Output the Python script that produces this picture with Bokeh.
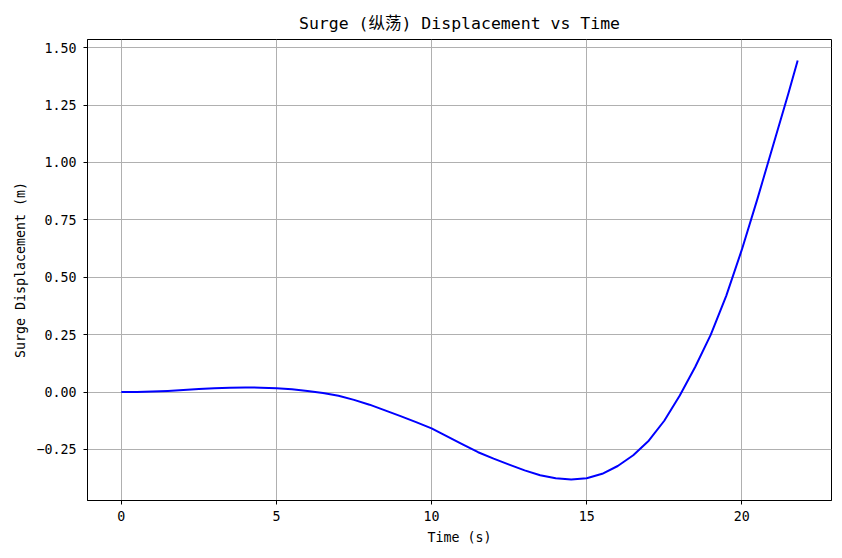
from bokeh.plotting import figure
from bokeh.models import Range1d, FixedTicker
from bokeh.embed import file_html
from bokeh.resources import INLINE

# surge displacement
time_s = [0, 0.5, 1, 1.5, 2, 2.5, 3, 3.5, 4, 4.5, 5, 5.5, 6, 6.5, 7, 7.5, 8, 8.5, 9, 9.5,
          10, 10.5, 11, 11.5, 12, 12.5, 13, 13.5, 14, 14.5, 15, 15.5, 16, 16.5, 17, 17.5,
          18, 18.5, 19, 19.5, 20, 20.5, 21, 21.5, 21.8]
surge_m = [0.000, 0.000, 0.002, 0.005, 0.009, 0.013, 0.017, 0.019, 0.020, 0.019, 0.017,
           0.012, 0.005, -0.004, -0.016, -0.034, -0.055, -0.080, -0.105, -0.131,
           -0.158, -0.193, -0.228, -0.262, -0.290, -0.316, -0.341, -0.362, -0.375, -0.381,
           -0.375, -0.356, -0.322, -0.275, -0.212, -0.125, -0.015, 0.110, 0.250, 0.420,
           0.620, 0.840, 1.070, 1.300, 1.444]

x_ticks = [0, 5, 10, 15, 20]
y_ticks = [-0.25, 0.0, 0.25, 0.5, 0.75, 1.0, 1.25, 1.5]
y_tick_labels = ["\u22120.25", "0.00", "0.25", "0.50", "0.75", "1.00", "1.25", "1.50"]

FONT = "'DejaVu Sans Mono', 'Noto Sans CJK SC', monospace"

# matplotlib-like 5% margins
xpad = 0.05 * (max(time_s) - min(time_s))
ypad = 0.05 * (max(surge_m) - min(surge_m))

p = figure(frame_width=744, frame_height=461,
           x_range=Range1d(min(time_s) - xpad, max(time_s) + xpad),
           y_range=Range1d(min(surge_m) - ypad, max(surge_m) + ypad),
           title="Surge (纵荡) Displacement vs Time",
           x_axis_label="Time (s)", y_axis_label="Surge Displacement (m)",
           output_backend="svg", toolbar_location=None,
           min_border_left=87, min_border_right=9, min_border_top=39, min_border_bottom=50)

p.line(time_s, surge_m, line_color="#0000ff", line_width=2, line_join="round")

p.title.align = "center"
p.title.text_font = FONT
p.title.text_font_style = "normal"
p.title.text_font_size = "16.5px"
p.title.text_color = "black"
p.title.standoff = 13

p.xaxis.ticker = FixedTicker(ticks=x_ticks)
p.yaxis.ticker = FixedTicker(ticks=y_ticks)
p.yaxis.major_label_overrides = dict(zip(y_ticks, y_tick_labels))

for ax in (p.xaxis, p.yaxis):
    ax.axis_line_color = "black"
    ax.major_tick_line_color = "black"
    ax.major_tick_out = 4
    ax.major_tick_in = 0
    ax.minor_tick_line_color = None
    ax.major_label_text_font = FONT
    ax.major_label_text_font_size = "13.3px"
    ax.major_label_text_color = "black"
    ax.axis_label_text_font = FONT
    ax.axis_label_text_font_size = "13.3px"
    ax.axis_label_text_font_style = "normal"
    ax.axis_label_text_color = "black"
p.xaxis.major_label_standoff = 6
p.xaxis.axis_label_standoff = 6
p.yaxis.major_label_standoff = 7
p.yaxis.axis_label_standoff = 5

p.grid.grid_line_color = "#b0b0b0"
p.grid.grid_line_width = 1
p.outline_line_color = "black"
p.outline_line_width = 1
p.background_fill_color = "white"
p.border_fill_color = "white"

open("out.html", "w").write(file_html(p, INLINE))
